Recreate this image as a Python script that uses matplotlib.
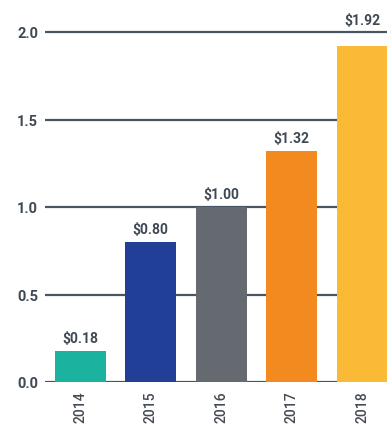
import matplotlib
matplotlib.use('Agg')
import matplotlib.pyplot as plt

# data
years = ['2014', '2015', '2016', '2017', '2018']
values = [0.18, 0.80, 1.00, 1.32, 1.92]
bar_colors = ['#1bb39f', '#213f97', '#646a70', '#f28a1f', '#fbba36']
yticks = [0.0, 0.5, 1.0, 1.5, 2.0]

plt.rcParams['font.family'] = ['Roboto', 'DejaVu Sans']

fig = plt.figure(figsize=(3.87, 4.27), dpi=100)
fig.patch.set_facecolor('white')
ax = fig.add_axes([45/387, 44/427, 1 - 45/387, 367.5/427])

x = range(len(years))
ax.bar(x, values, width=0.72, color=bar_colors, zorder=3)

for xi, v in zip(x, values):
    # the tallest label sits above the top gridline
    off = 14 if v > 1.85 else 4
    ax.annotate(f'${v:.2f}', (xi, v), xytext=(0, off), textcoords='offset points',
                ha='center', va='bottom', fontsize=10, fontweight='bold',
                color='#3f4954', zorder=4)

ax.set_xlim(-0.5, 4.35)
ax.set_ylim(0, 2.1)
ax.set_yticks(yticks)
ax.set_yticklabels([f'{t:.1f}' for t in yticks], fontsize=10.5, fontweight='bold', color='#3f4954')
ax.set_xticks(list(x))
ax.set_xticklabels(years, rotation=90, fontsize=10, fontweight='medium', color='#434a52')
ax.tick_params(axis='x', length=0, pad=6)
ax.tick_params(axis='y', length=0, pad=5)

for t in yticks:
    ax.axhline(t, color='#4a5563', linewidth=1.6, zorder=1)

for s in ax.spines.values():
    s.set_visible(False)

fig.savefig('out.png', dpi=100, facecolor='white')
